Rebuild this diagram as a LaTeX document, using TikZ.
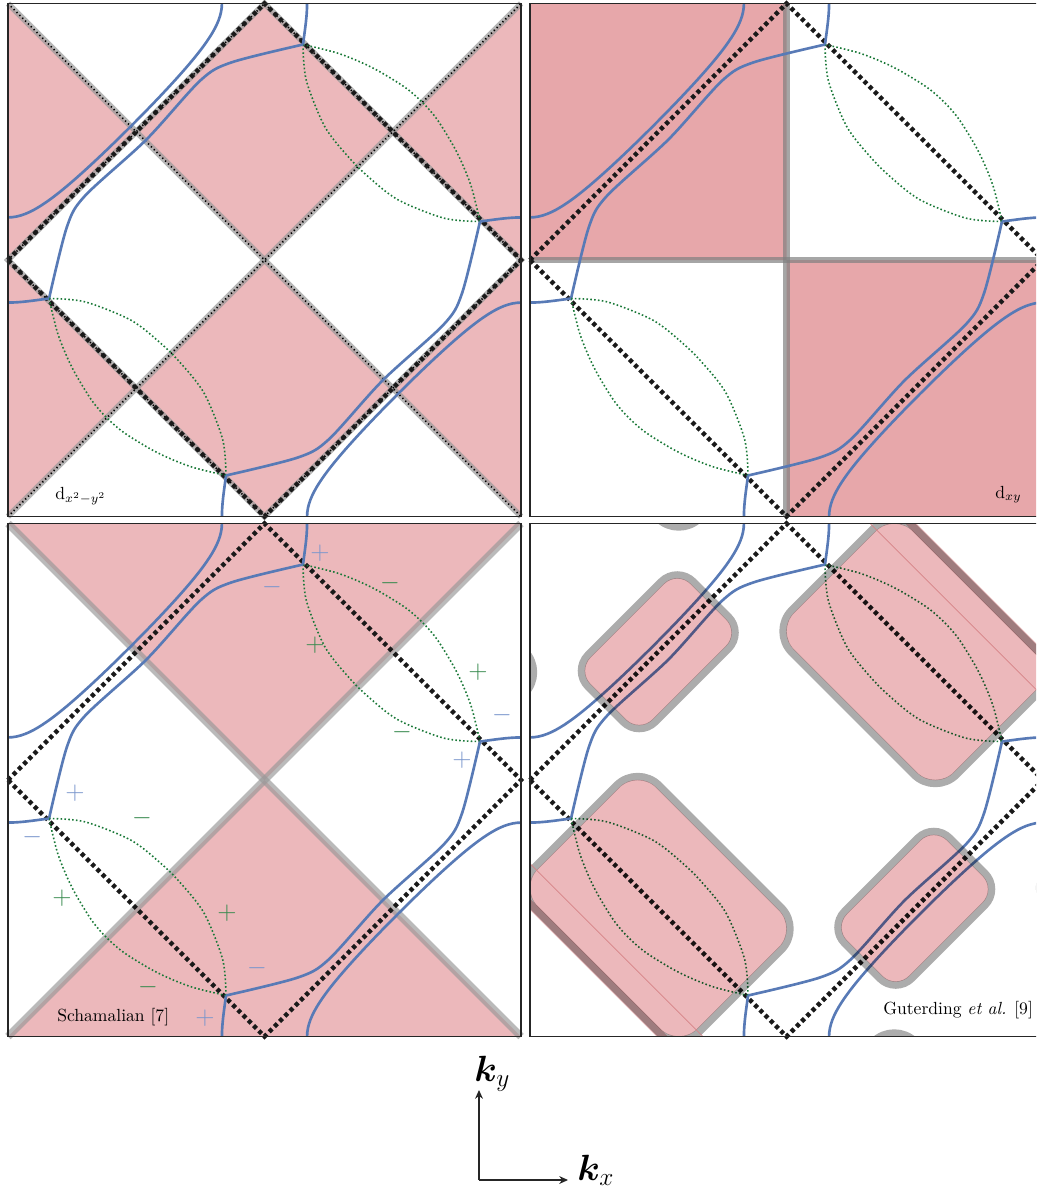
\documentclass[tikz,border=0pt]{standalone}
\usepackage{amsmath,bm}
\usetikzlibrary{arrows.meta}
\definecolor{FSBlue}{RGB}{88,122,182}
\definecolor{FSGreen}{RGB}{25,120,55}
\definecolor{GapPink}{RGB}{236,184,187}
\definecolor{GapPinkXY}{RGB}{231,167,170}
\definecolor{GapEdge}{RGB}{172,172,172}
\definecolor{SignBlue}{RGB}{122,150,204}
\definecolor{SignGreen}{RGB}{55,138,78}
\definecolor{StripRed}{RGB}{214,130,134}

% folded zone boundary
\newcommand{\zoneedge}{\draw[zoneline] (-1,0) -- (0,1) -- (1,0) -- (0,-1) -- cycle;}
% one half of the Fermi surface, the other half by inversion
\newcommand{\fshalf}{%
  \draw[lensline] plot[smooth] coordinates {(0.15,0.84) (0.29,0.805) (0.42,0.75) (0.545,0.675) (0.615,0.615) (0.675,0.545) (0.75,0.42) (0.805,0.29) (0.84,0.15)};
  \draw[lensline] plot[smooth] coordinates {(0.15,0.84) (0.163,0.70) (0.235,0.52) (0.326,0.403) (0.403,0.326) (0.52,0.235) (0.70,0.163) (0.84,0.15)};
  \draw[fsline] plot[domain=-1:-0.5212,samples=30] (\x,{acos(-0.133-cos(180*\x))/180})
    -- plot[domain=-0.5212:-1,samples=30] ({-acos(-0.133-cos(180*\x))/180},{-\x});
  \draw[fsline] plot[smooth] coordinates {(0.15,0.84) (-0.13,0.77) (-0.25,0.70) (-0.46,0.47) (-0.70,0.25) (-0.77,0.13) (-0.84,-0.15)};
  \draw[fsline] (0.15,0.84) .. controls (0.158,0.9) and (0.166,0.95) .. (0.166,1);
  \draw[fsline] (0.84,0.15) .. controls (0.9,0.158) and (0.95,0.166) .. (1,0.166);
}
\newcommand{\fermisurface}{\fshalf\begin{scope}[rotate=180]\fshalf\end{scope}}

\begin{document}
\begin{tikzpicture}[
    fsline/.style={FSBlue,line width=1.5pt},
    lensline/.style={FSGreen,line width=0.9pt,dash pattern=on 0.9pt off 1.3pt},
    zoneline/.style={black!90,line width=2.6pt,dash pattern=on 2.3pt off 1.9pt},
    nodeline/.style={black!40,opacity=0.7,line width=3.4pt},
    nodedots/.style={black,line width=1pt,dash pattern=on 0.7pt off 1.6pt},
    gapedge/.style={draw=GapEdge,line width=4.2pt,blend mode=multiply},
    gapfill/.style={fill=GapPink,blend mode=multiply},
    framebox/.style={draw=black!85,line width=0.6pt},
    lbl/.style={font=\normalsize,inner sep=0pt,anchor=base west},
    sgnblue/.style={SignBlue,font=\Large,inner sep=0pt},
    sgngreen/.style={SignGreen,font=\Large,inner sep=0pt},
    axisarrow/.style={-{Stealth[length=5pt,width=4.5pt]},line width=0.6pt,black!85},
    axlabel/.style={font=\huge,inner sep=0pt,anchor=base west}]

  \useasboundingbox (0,0) rectangle (20.72,-23.78);
  \clip (0,0) rectangle (20.72,-23.78);

  % top left: d_{x^2-y^2}
  \begin{scope}[shift={(5.29,-5.20)},x=5.13cm,y=5.13cm]
    \fill[GapPink] (-0.5,0.5) -- (0,1) -- (0.5,0.5) -- (0,0) -- cycle
                   (0,0) -- (0.5,-0.5) -- (0,-1) -- (-0.5,-0.5) -- cycle
                   (-1,1) -- (-0.5,0.5) -- (-1,0) -- cycle
                   (-1,0) -- (-0.5,-0.5) -- (-1,-1) -- cycle
                   (1,1) -- (0.5,0.5) -- (1,0) -- cycle
                   (1,0) -- (0.5,-0.5) -- (1,-1) -- cycle;
    \draw[nodeline] (-1,1) -- (1,-1);
    \draw[nodeline] (-1,-1) -- (1,1);
    \draw[nodeline] (-1,0) -- (0,1) -- (1,0) -- (0,-1) -- cycle;
    \draw[nodedots] (-1,1) -- (1,-1) (-1,-1) -- (1,1)
                    (-1,0) -- (0,1) -- (1,0) -- (0,-1) -- cycle;
    \zoneedge
    \fermisurface
    \draw[framebox] (-1,-1) rectangle (1,1);
    \node[lbl] (lbldx) at (-0.817,-0.932) {d$_{x^2-y^2}$};
  \end{scope}

  % top right: d_{xy}
  \begin{scope}[shift={(15.73,-5.20)},x=5.13cm,y=5.13cm]
    \fill[GapPinkXY] (-1,0) rectangle (0,1) (0,-1) rectangle (1,0);
    \draw[nodeline,black!50,line width=3.8pt] (0,-1) -- (0,1);
    \draw[nodeline,black!50,line width=3.8pt] (-1,0) -- (1,0);
    \zoneedge
    \fermisurface
    \draw[framebox] (-1,-1) rectangle (1,1);
    \node[lbl] (lbldxy) at (0.813,-0.928) {d$_{xy}$};
  \end{scope}

  % bottom left: Schamalian
  \begin{scope}[shift={(5.29,-15.60)},x=5.13cm,y=5.13cm]
    \fill[GapPink] (-1,1) -- (1,1) -- (0,0) -- cycle (-1,-1) -- (1,-1) -- (0,0) -- cycle;
    \draw[nodeline,opacity=0.68,line width=4.3pt] (-1,1) -- (1,-1);
    \draw[nodeline,opacity=0.68,line width=4.3pt] (-1,-1) -- (1,1);
    \zoneedge
    \fermisurface
    \node[sgnblue]  (bp1) at (0.216,0.885)  {$+$};
    \node[sgnblue]  (bm1) at (0.029,0.752)  {$-$};
    \node[sgngreen] (gm1) at (0.489,0.768)  {$-$};
    \node[sgngreen] (gp1) at (0.197,0.526)  {$+$};
    \node[sgngreen] (gp2) at (0.832,0.421)  {$+$};
    \node[sgnblue]  (bm2) at (0.926,0.253)  {$-$};
    \node[sgngreen] (gm2) at (0.536,0.187)  {$-$};
    \node[sgnblue]  (bp2) at (0.770,0.078)  {$+$};
    \node[sgnblue]  (bp3) at (-0.739,-0.051) {$+$};
    \node[sgngreen] (gm3) at (-0.478,-0.148) {$-$};
    \node[sgnblue]  (bm3) at (-0.906,-0.222) {$-$};
    \node[sgngreen] (gp3) at (-0.789,-0.460) {$+$};
    \node[sgngreen] (gp4) at (-0.146,-0.519) {$+$};
    \node[sgnblue]  (bm4) at (-0.029,-0.733) {$-$};
    \node[sgngreen] (gm4) at (-0.454,-0.807) {$-$};
    \node[sgnblue]  (bp4) at (-0.232,-0.928) {$+$};
    \draw[framebox] (-1,-1) rectangle (1,1);
    \node[lbl] (lblsch) at (-0.809,-0.943) {Schamalian [7]};
  \end{scope}

  % bottom right: Guterding et al.
  \begin{scope}[shift={(15.73,-15.60)},x=5.13cm,y=5.13cm]
    \zoneedge
    \fermisurface
    \begin{scope}
      \clip (-1,-1) rectangle (1,1);
      \foreach \cx/\cy in {0.5/0.5,-0.5/-0.5,-0.5/1.5,1.5/-0.5,0.5/-1.5,-1.5/0.5}{
        \draw[gapedge,rounded corners=0.6cm,shift={(\cx,\cy)},rotate=-45] (-0.454,-0.341) rectangle (0.454,0.341);
        \fill[gapfill,rounded corners=0.53cm,shift={(\cx,\cy)},rotate=-45] (-0.441,-0.328) rectangle (0.441,0.328);
      }
      \foreach \cx/\cy in {-0.5/0.5,0.5/-0.5}{
        \draw[gapedge,rounded corners=0.45cm,shift={(\cx,\cy)},rotate=45] (-0.29,-0.185) rectangle (0.29,0.185);
        \fill[gapfill,rounded corners=0.38cm,shift={(\cx,\cy)},rotate=45] (-0.277,-0.172) rectangle (0.277,0.172);
      }
      % overlap of the periodic copies along the edges
      \fill[gapfill] (-1,-0.462) -- (-0.462,-1) -- (-0.506,-1) -- (-1,-0.506) -- cycle;
      \fill[gapfill] (1,0.462) -- (0.462,1) -- (0.506,1) -- (1,0.506) -- cycle;
      \draw[StripRed,line width=0.4pt] (-1,-0.326) -- (-0.326,-1);
      \draw[StripRed,line width=0.4pt] (1,0.326) -- (0.326,1);
    \end{scope}
    \draw[framebox] (-1,-1) rectangle (1,1);
    \node[lbl] (lblgut) at (0.376,-0.916) {Guterding \textit{et al.} [9]};
  \end{scope}

  % axes
  \coordinate (org) at (9.58,-23.6);
  \coordinate (kytip) at (9.58,-21.8);
  \coordinate (kxtip) at (11.36,-23.6);
  \draw[axisarrow] (org) -- (kytip);
  \draw[axisarrow] (org) -- (kxtip);
  \node[axlabel] (kylbl) at (9.48,-21.62) {$\bm{k}_y$};
  \node[axlabel] (kxlbl) at (11.54,-23.60) {$\bm{k}_x$};
\end{tikzpicture}
\end{document}
